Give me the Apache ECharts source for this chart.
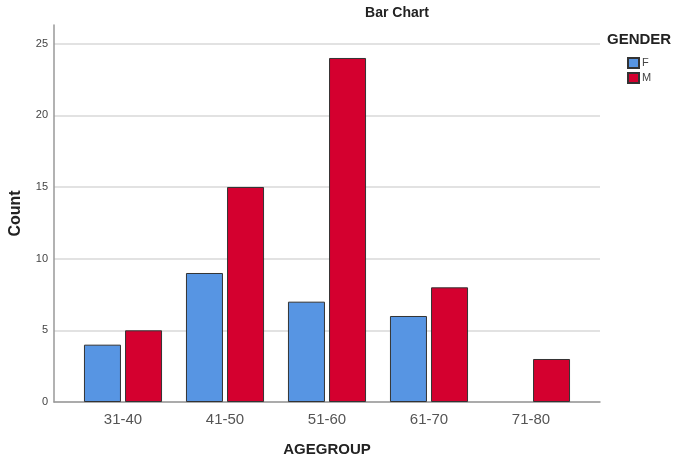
<!DOCTYPE html>
<html>
<head>
<meta charset="utf-8">
<script src="https://cdn.jsdelivr.net/npm/echarts@6/dist/echarts.min.js"></script>
<style>html,body{margin:0;padding:0;background:#fff;}#c{width:685px;height:458px;}</style>
</head>
<body>
<div id="c"></div>
<script>
const categories = ['31-40', '41-50', '51-60', '61-70', '71-80'];
const femaleCounts = [4, 9, 7, 6, '-'];
const maleCounts = [5, 15, 24, 8, 3];
const yTicks = [0, 5, 10, 15, 20, 25];

const FONT = 'Liberation Sans, Arial, sans-serif';
const chart = echarts.init(document.getElementById('c'), null, {renderer: 'canvas'});
chart.setOption({
  animation: false,
  backgroundColor: '#ffffff',
  graphic: [
    {type: 'text', x: 397, y: 6,
     style: {text: 'Bar Chart', textAlign: 'center', fontFamily: FONT, fontSize: 14, fontWeight: 'bold', fill: '#222'}},
    {type: 'text', x: 607, y: 32,
     style: {text: 'GENDER', fontFamily: FONT, fontSize: 15, fontWeight: 'bold', fill: '#222'}}
  ],
  legend: {
    orient: 'vertical', left: 622, top: 52, itemWidth: 11, itemHeight: 10, itemGap: 3,
    icon: 'rect',
    textStyle: {fontFamily: FONT, fontSize: 11, color: '#444', padding: [0, 0, 0, -2]},
    data: ['F', 'M']
  },
  grid: [
    {left: 54, top: 25, width: 546, height: 377, outerBoundsMode: 'none', containLabel: false},
    {left: 72, top: 25, width: 510, height: 377, outerBoundsMode: 'none', containLabel: false}
  ],
  xAxis: [
    {type: 'value', gridIndex: 0, min: 0, max: 1, axisLabel: {show: false}, axisTick: {show: false},
     splitLine: {show: false}, axisLine: {show: true, lineStyle: {color: '#999', width: 1.5}}},
    {type: 'category', gridIndex: 1, data: categories,
     axisLine: {show: false}, axisTick: {show: false},
     axisLabel: {fontFamily: FONT, fontSize: 15, color: '#555', margin: 10},
     name: 'AGEGROUP', nameLocation: 'middle', nameGap: 40,
     nameTextStyle: {fontFamily: FONT, fontSize: 15, fontWeight: 'bold', color: '#222'}}
  ],
  yAxis: [
    {type: 'value', gridIndex: 0, min: 0, max: 26.3, interval: 5,
     axisLine: {show: true, lineStyle: {color: '#999', width: 1.5}},
     axisTick: {show: false},
     axisLabel: {fontFamily: FONT, fontSize: 11, color: '#444', margin: 6, showMaxLabel: false,
       formatter: v => yTicks.includes(v) ? String(v) : ''},
     splitLine: {show: true, showMaxLine: false, lineStyle: {color: '#d9d9d9', width: 1.5}},
     name: 'Count', nameLocation: 'middle', nameGap: 30, nameRotate: 90,
     nameTextStyle: {fontFamily: FONT, fontSize: 16, fontWeight: 'bold', color: '#222'}},
    {type: 'value', gridIndex: 1, min: 0, max: 26.3, show: false, splitLine: {show: false}}
  ],
  series: [
    {name: 'F', type: 'bar', xAxisIndex: 1, yAxisIndex: 1, data: femaleCounts,
     barWidth: 37, barGap: '11%',
     itemStyle: {color: '#5795e3', borderColor: '#333', borderWidth: 1}},
    {name: 'M', type: 'bar', xAxisIndex: 1, yAxisIndex: 1, data: maleCounts,
     barWidth: 37, barGap: '11%',
     itemStyle: {color: '#d4002f', borderColor: '#333', borderWidth: 1}}
  ]
});
</script>
</body>
</html>
